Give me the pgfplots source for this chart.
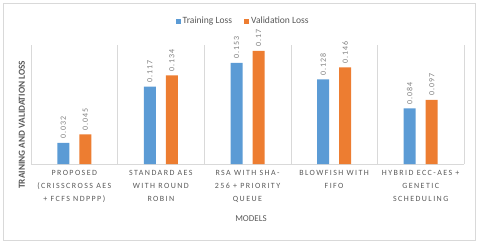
\documentclass[border=0pt]{standalone}
\usepackage{fontspec}
\setmainfont{Carlito}
\newfontfamily\tickfont[LetterSpace=18]{Carlito}
\newfontfamily\valfont[LetterSpace=12]{Carlito}
\usepackage{pgfplots}
\pgfplotsset{compat=1.18}

\definecolor{trainblue}{HTML}{5B9BD5}
\definecolor{valorange}{HTML}{ED7D31}
\definecolor{txtgray}{HTML}{595959}
\definecolor{lblgray}{HTML}{7F7F7F}
\definecolor{gridgray}{HTML}{D9D9D9}

\begin{document}
\begin{tikzpicture}[x=1bp,y=1bp]
\begin{axis}[
    at={(0bp,0bp)}, anchor=south west,
    scale only axis,
    width=433bp, height=119bp,
    ybar=10bp, bar width=12bp,
    xmin=-0.5, xmax=4.5,
    ymin=0, ymax=0.18,
    axis x line=bottom, axis y line=left,
    x axis line style={gridgray, -},
    y axis line style={draw=none},
    ytick=\empty,
    xtick={0,1,2,3,4},
    xtick style={draw=none},
    minor xtick={-0.5,0.5,1.5,2.5,3.5,4.5},
    minor x tick style={draw=none},
    minor x grid style={gridgray, line width=0.6pt},
    xminorgrids=true,
    xticklabels={
        {PROPOSED\\(CRISSCROSS AES\\+ FCFS NDPPP)},
        {STANDARD AES\\WITH ROUND\\ROBIN},
        {RSA WITH SHA-\\256 + PRIORITY\\QUEUE},
        {BLOWFISH WITH\\FIFO},
        {HYBRID ECC-AES +\\GENETIC\\SCHEDULING}},
    xticklabel style={align=center, font=\tickfont\fontsize{8}{13}\selectfont,
        text=txtgray, yshift=-1bp},
    xlabel={MODELS},
    xlabel style={font=\fontsize{9}{10}\selectfont, text=txtgray,
        at={(axis description cs:0.508,-0.46)}, anchor=center},
    ylabel={\textbf{TRAINING AND VALIDATION LOSS}},
    ylabel style={font=\fontsize{9.3}{10}\selectfont, text=txtgray,
        at={(axis description cs:-0.021,0.33)}, anchor=center},
    nodes near coords,
    every node near coord/.append style={rotate=90, anchor=west, inner sep=4bp,
        font=\valfont\fontsize{8}{9}\selectfont, text=lblgray},
    /pgf/number format/fixed, /pgf/number format/fixed zerofill,
    /pgf/number format/precision=3,
    /pgf/number format/assume math mode=true,
    clip=false,
    legend columns=2,
    legend style={draw=none, fill=white, at={(axis description cs:0.49,1.2)},
        anchor=center, font=\fontsize{9.6}{10}\selectfont, text=txtgray,
        inner sep=1bp,
        /tikz/every even column/.append style={column sep=10bp}},
    legend image code/.code={\fill[#1] (0bp,-2.5bp) rectangle (5bp,2.5bp);},
]
\addplot[fill=trainblue, draw=none] coordinates {(0,0.032) (1,0.117) (2,0.153) (3,0.128) (4,0.084)};
\addlegendentry{Training Loss}
\addplot[fill=valorange, draw=none] coordinates {(0,0.045) (1,0.134) (2,0.171) (3,0.146) (4,0.097)};
\addlegendentry{Validation Loss}
\end{axis}
\draw[gridgray, line width=0.8pt] (-28bp,-76bp) rectangle (444bp,161bp);
\pgfresetboundingbox
\path[use as bounding box] (-31bp,-80bp) rectangle (449bp,164bp);
\end{tikzpicture}
\end{document}
